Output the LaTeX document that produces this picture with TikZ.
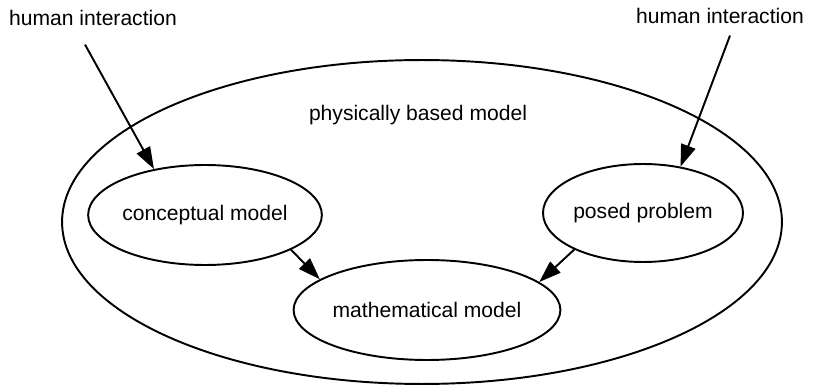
\documentclass[tikz,border=0pt]{standalone}
\usepackage{fontspec}
\setmainfont{Liberation Sans}
\usetikzlibrary{shapes.geometric,arrows.meta}

\begin{document}
\begin{tikzpicture}[x=0.02cm,y=-0.02cm,font=\fontsize{12}{14}\selectfont,line width=1.1pt,
  blob/.style={draw,ellipse,inner sep=0pt},
  arr/.style={-{Triangle[length=4.4mm,width=3mm]}}]
  \useasboundingbox (0,0) rectangle (818,388);

  \node[blob,minimum width=14.4cm,minimum height=6.48cm] (world) at (422,222) {};
  \node (phys) at (418,115) {physically based model};

  \node[blob,minimum width=3.96cm,minimum height=2cm] (concept) at (205,215) {conceptual model};
  \node[blob,minimum width=4cm,minimum height=1.96cm] (posed) at (643,213) {posed problem};
  \node[blob,minimum width=4.42cm,minimum height=2cm] (math) at (427,310) {mathematical model};

  \node (hl) at (93,18) {human interaction};
  \node (hr) at (720,16) {human interaction};
  \coordinate (hlfoot) at ([xshift=-0.16cm,yshift=-0.24cm]hl.south);
  \coordinate (hrfoot) at ([xshift=0.2cm,yshift=-0.1cm]hr.south);

  \draw[arr] (hlfoot) -- (concept.138);
  \draw[arr] (hrfoot) -- (posed.51);
  \draw[arr] (concept.-22) -- (math.164);
  \draw[arr] (posed.-152) -- (math.14);
\end{tikzpicture}
\end{document}
